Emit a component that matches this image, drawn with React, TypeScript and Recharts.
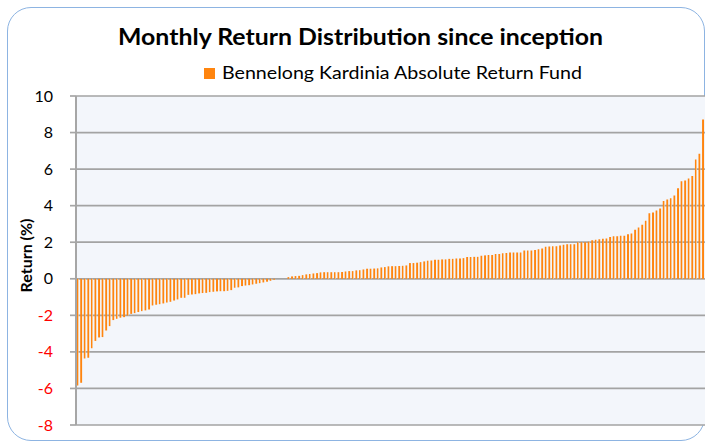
import React from 'react';
import { BarChart, Bar, XAxis, YAxis, CartesianGrid, Legend } from 'recharts';

// Sorted monthly returns (%), left to right
const negativeReturns = [
  -5.84, -5.69, -4.36, -4.32, -3.8, -3.4, -3.21, -3.19, -2.83, -2.59,
  -2.26, -2.19, -2.13, -2.1, -2.01, -1.92, -1.88, -1.82, -1.77, -1.73,
  -1.68, -1.46, -1.42, -1.39, -1.35, -1.3, -1.26, -1.19, -1.13, -1.04,
  -1.04, -0.88, -0.86, -0.84, -0.8, -0.78, -0.77, -0.73, -0.71, -0.69,
  -0.68, -0.68, -0.66, -0.62, -0.49, -0.47, -0.4, -0.37, -0.35, -0.31,
  -0.27, -0.24, -0.2, -0.16, -0.11, -0.05,
];
const flatReturns = [0, 0, 0];
const lowReturns = [
  0.09, 0.13, 0.15, 0.16, 0.2, 0.24, 0.26, 0.29, 0.31, 0.35,
  0.36, 0.36, 0.36, 0.36, 0.36, 0.37, 0.4, 0.42, 0.42, 0.46,
  0.47, 0.51, 0.55, 0.55, 0.56, 0.57, 0.62, 0.64, 0.68, 0.69, 0.69,
];
const midReturns = [
  0.7, 0.71, 0.73, 0.86, 0.86, 0.88, 0.91, 0.95, 0.99, 1.0,
  1.04, 1.04, 1.06, 1.06, 1.09, 1.09, 1.11, 1.11, 1.13, 1.19,
  1.19, 1.2, 1.2, 1.26, 1.28, 1.3, 1.3, 1.35, 1.35, 1.39, 1.41,
];
const upperReturns = [
  1.44, 1.44, 1.44, 1.44, 1.55, 1.55, 1.55, 1.57, 1.62, 1.66,
  1.75, 1.77, 1.78, 1.78, 1.82, 1.86, 1.89, 1.89, 1.89, 2.0,
  2.0, 2.0, 2.02, 2.11, 2.14, 2.16, 2.19, 2.21, 2.28,
];
const topReturns = [
  2.32, 2.32, 2.35, 2.35, 2.43, 2.48, 2.68, 2.81, 2.96, 3.18,
  3.58, 3.63, 3.74, 3.85, 4.25, 4.34, 4.4, 4.56, 4.95, 5.33,
  5.38, 5.49, 5.62, 6.53, 6.84, 8.72,
];
const yTicks = [-8, -6, -4, -2, 0, 2, 4, 6, 8, 10];
const seriesName = 'Bennelong Kardinia Absolute Return Fund';
const titleText = 'Monthly Return Distribution since inception';
const yAxisTitle = 'Return (%)';

const allReturns = [
  ...negativeReturns, ...flatReturns, ...lowReturns,
  ...midReturns, ...upperReturns, ...topReturns,
];
const data = allReturns.map((v, i) => ({ rank: i + 1, ret: v }));

const FONT = 'Lato, "Open Sans", sans-serif';
const ORANGE = '#FF850F';

const YTick = (props: any) => {
  const { x, y, payload } = props;
  const v = payload.value;
  return (
    <text x={x} y={y} dy={5.5} textAnchor="end" fontSize={16} fontFamily={FONT}
      fill={v < 0 ? '#FF0000' : '#000000'}>{v}</text>
  );
};

const YLabel = (props: any) => {
  const vb = props.viewBox || { x: 0, y: 96, width: 76, height: 328 };
  const cx = vb.x + 25;
  const cy = vb.y + vb.height / 2 - 5;
  return (
    <text x={cx} y={cy} transform={`rotate(-90 ${cx} ${cy})`} textAnchor="middle"
      dominantBaseline="central" fontSize={16} fontWeight="bold" fontFamily={FONT} fill="#000">
      {yAxisTitle}
    </text>
  );
};

const LegendContent = () => (
  <div style={{ position: 'relative', height: 0 }}>
    <svg width={707} height={90} style={{ position: 'absolute', left: 0, top: 0, overflow: 'visible' }}>
      <rect x={204} y={68} width={11} height={11} fill={ORANGE} />
      <text x={222} y={79} fontSize={17} fontFamily={FONT} fill="#000"
        textLength={360} lengthAdjust="spacingAndGlyphs">{seriesName}</text>
    </svg>
  </div>
);

export default function App() {
  return (
    <div style={{ position: 'absolute', left: 0, top: 0, width: 707, height: 442, overflow: 'hidden', background: '#fff' }}>
      <div style={{
        position: 'absolute', left: 7, top: 7, width: 698, height: 434,
        border: '1.5px solid #8DB4E2', borderRadius: 24, boxSizing: 'border-box', background: '#fff',
      }} />
      <div style={{ position: 'absolute', left: 0, top: 0 }}>
        <BarChart width={707} height={442} data={data}
          margin={{ top: 96, right: 2, bottom: 17, left: 0 }}
          barCategoryGap="18%">
          <defs>
            <linearGradient id="barFill" x1="0" y1="0" x2="1" y2="0">
              <stop offset="0" stopColor={ORANGE} />
              <stop offset="0.74" stopColor={ORANGE} />
              <stop offset="0.76" stopColor="#F9C084" />
              <stop offset="1" stopColor="#F9C084" />
            </linearGradient>
          </defs>
          <CartesianGrid horizontal vertical={false} fill="#F3F6FB" stroke="#A3A3A3" strokeWidth={1.7} />
          <XAxis dataKey="rank" hide />
          <YAxis width={76} domain={[-8, 10]} ticks={yTicks} interval={0} allowDataOverflow
            axisLine={{ stroke: '#A6A6A6', strokeWidth: 2 }} tickLine={{ stroke: '#A6A6A6', strokeWidth: 1.7 }}
            tickSize={6} tickMargin={17} tick={<YTick />} label={<YLabel />} />
          <Legend verticalAlign="top" content={<LegendContent />}
            wrapperStyle={{ top: 0, left: 0, width: 707, height: 0 }} />
          <Bar dataKey="ret" name={seriesName} fill="url(#barFill)" isAnimationActive={false} />
        </BarChart>
      </div>
      <svg width={707} height={60} style={{ position: 'absolute', left: 0, top: 0 }}>
        <text x={118} y={45} fontSize={22} fontWeight="bold" fontFamily={FONT} fill="#000"
          textLength={485} lengthAdjust="spacingAndGlyphs">{titleText}</text>
      </svg>
    </div>
  );
}
